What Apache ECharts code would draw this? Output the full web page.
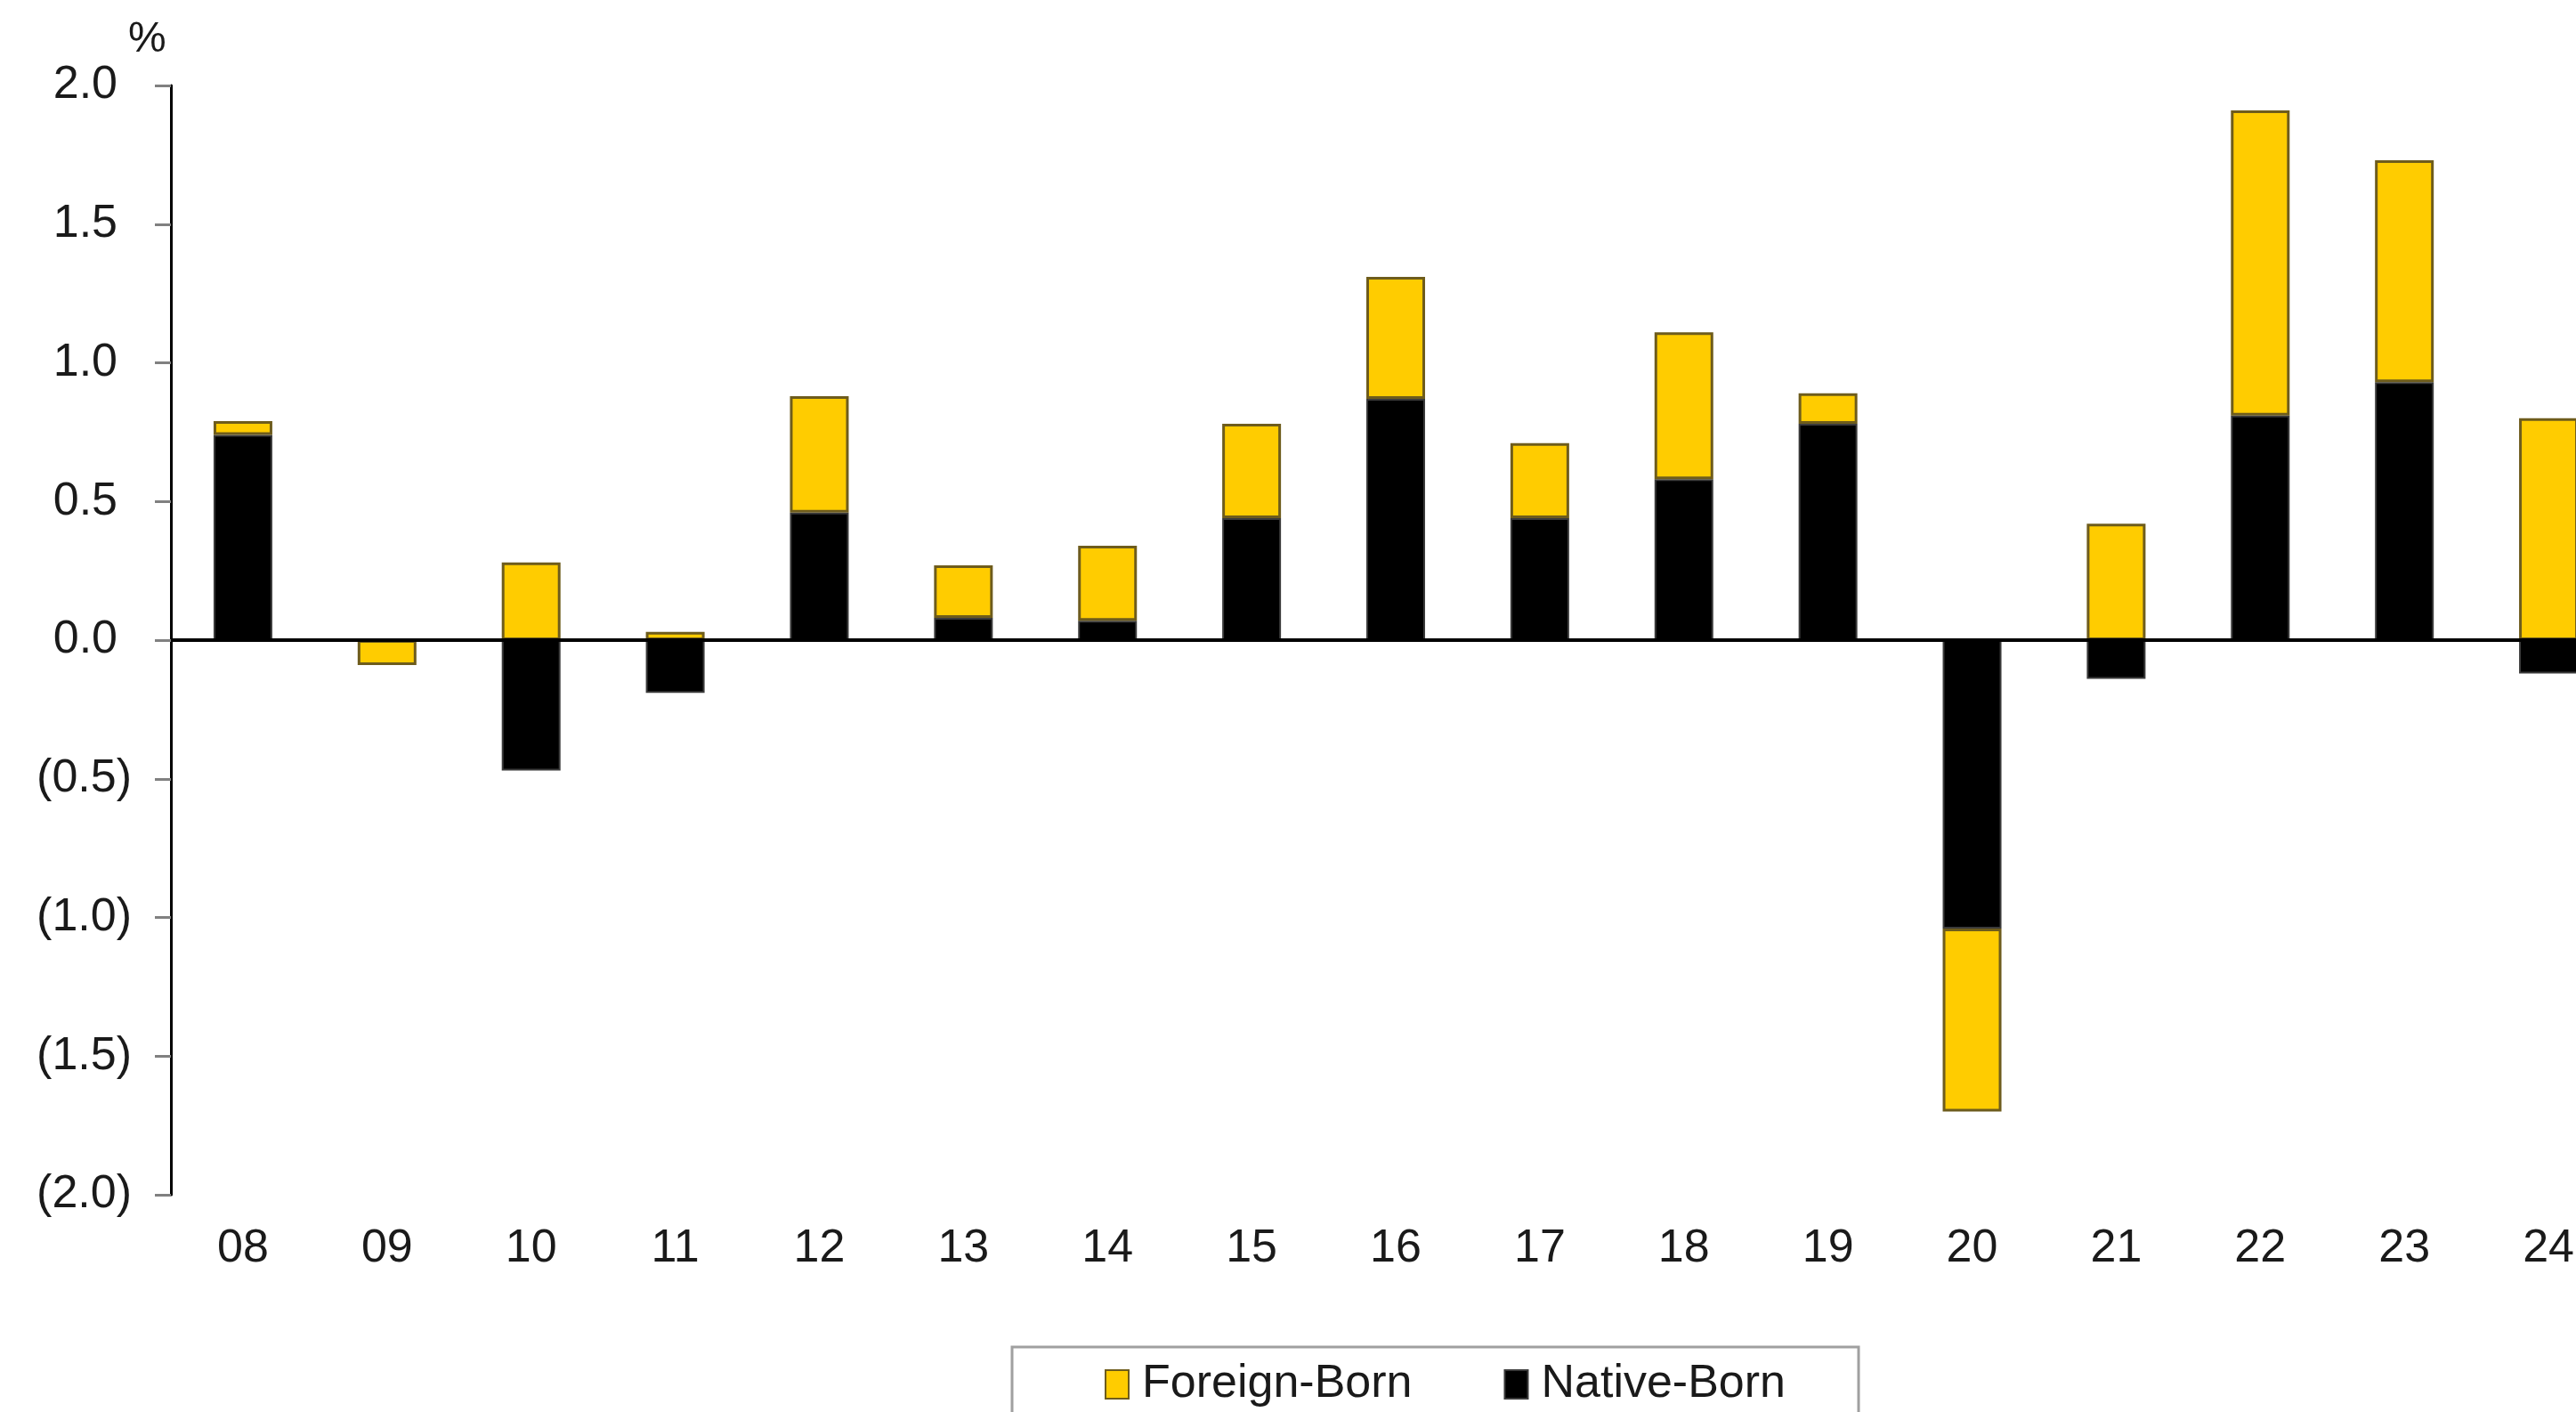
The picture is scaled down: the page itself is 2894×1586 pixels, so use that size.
<!DOCTYPE html>
<html>
<head>
<meta charset="utf-8">
<title>Employment growth contribution: foreign-born vs native-born</title>
<script src="https://cdn.jsdelivr.net/npm/echarts@6/dist/echarts.min.js"></script>
<style>
  html, body { margin: 0; padding: 0; background: #ffffff; overflow: hidden; }
  #chart { width: 2894px; height: 1586px; }
</style>
</head>
<body>
<div id="chart"></div>
<script>
// Years (last two digits)
const years = ['08', '09', '10', '11', '12', '13', '14', '15', '16', '17', '18', '19', '20', '21', '22', '23', '24'];

// Contribution to growth, percentage points
const nativeBorn  = [0.74, 0.00, -0.47, -0.19, 0.46, 0.08, 0.07, 0.44, 0.87, 0.44, 0.58, 0.78, -1.04, -0.14, 0.81, 0.93, -0.12];
const foreignBorn = [0.05, -0.09, 0.28, 0.03, 0.42, 0.19, 0.27, 0.34, 0.44, 0.27, 0.53, 0.11, -0.66, 0.42, 1.10, 0.80, 0.80];

// Value axis ticks
const yMin = -2.0;
const yMax = 2.0;
const yStep = 0.5;

const FONT = "'Liberation Sans', Arial, sans-serif";
const TEXT = '#1a1a1a';

function fmtTick(v) {
  const s = Math.abs(v).toFixed(1);
  // accounting style: negatives in parentheses, positives padded by a ")" width
  return v < 0 ? '(' + s + ')' : '{pos|' + s + '}';
}

const chart = echarts.init(document.getElementById('chart'), null, { renderer: 'canvas' });

chart.setOption({
  animation: false,
  backgroundColor: '#ffffff',
  textStyle: { fontFamily: FONT },
  title: {
    text: '%',
    left: 139,
    top: 16,
    textStyle: { fontFamily: FONT, fontSize: 48, fontWeight: 'normal', color: TEXT }
  },
  // the last year runs past the right edge of the page
  grid: { left: 192, top: 96, width: 2752, height: 1246, outerBoundsMode: 'none', containLabel: false },
  legend: {
    data: ['Foreign-Born', 'Native-Born'],
    left: 1137,
    top: 1513,
    orient: 'horizontal',
    icon: 'rect',
    padding: [16, 82, 60, 104],
    itemWidth: 26,
    itemHeight: 32,
    itemGap: 103,
    borderColor: '#a0a0a0',
    borderWidth: 3,
    textStyle: { fontFamily: FONT, fontSize: 52, color: TEXT, padding: [0, 0, 0, 10] }
  },
  xAxis: {
    type: 'category',
    data: years,
    boundaryGap: true,
    axisLine: { show: false, onZero: false },
    axisTick: { show: false },
    splitLine: { show: false },
    axisLabel: { fontFamily: FONT, fontSize: 52, color: TEXT, margin: 35 }
  },
  yAxis: {
    type: 'value',
    min: yMin,
    max: yMax,
    interval: yStep,
    splitLine: { show: false },
    axisLine: { show: true, lineStyle: { color: '#000', width: 3 } },
    axisTick: { show: true, inside: false, length: 18, lineStyle: { color: '#808080', width: 3 } },
    axisLabel: {
      fontFamily: FONT,
      fontSize: 52,
      color: TEXT,
      margin: 44,
      formatter: fmtTick,
      rich: { pos: { fontFamily: FONT, fontSize: 52, color: TEXT, padding: [0, 16, 0, 0] } }
    }
  },
  series: [
    {
      name: 'Native-Born',
      type: 'bar',
      stack: 'total',
      barWidth: 66,
      data: nativeBorn,
      itemStyle: { color: '#000000', borderColor: '#3a3a3a', borderWidth: 2 },
      markLine: {
        silent: true,
        symbol: 'none',
        label: { show: false },
        lineStyle: { color: '#000', width: 4, type: 'solid' },
        data: [{ yAxis: 0 }]
      }
    },
    {
      name: 'Foreign-Born',
      type: 'bar',
      stack: 'total',
      barWidth: 66,
      data: foreignBorn,
      itemStyle: { color: '#FFCC00', borderColor: '#6e5c1c', borderWidth: 3 }
    }
  ]
});
</script>
</body>
</html>
